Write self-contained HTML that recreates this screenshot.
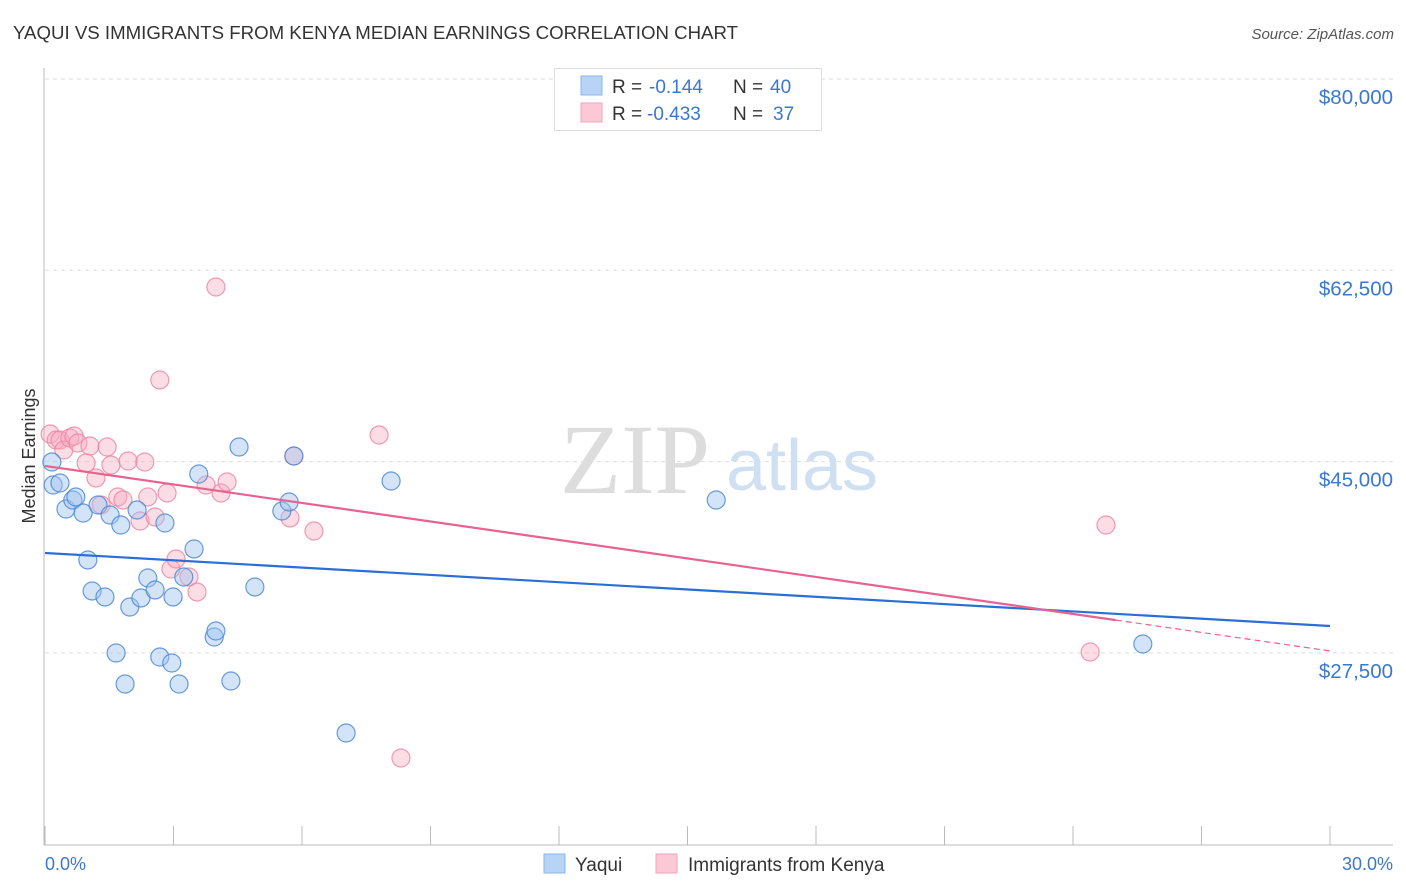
<!DOCTYPE html>
<html><head><meta charset="utf-8"><style>
body{margin:0;background:#fff;font-family:"Liberation Sans",sans-serif;}
svg{display:block}
</style></head><body>
<svg id="chart" width="1406" height="892" xmlns="http://www.w3.org/2000/svg">
<text x="13" y="39" font-size="18" fill="#333" textLength="725" lengthAdjust="spacingAndGlyphs">YAQUI VS IMMIGRANTS FROM KENYA MEDIAN EARNINGS CORRELATION CHART</text>
<text x="1394" y="39" font-size="15" fill="#555" font-style="italic" text-anchor="end">Source: ZipAtlas.com</text>
<text x="635" y="493" font-size="100" fill="#ddd" text-anchor="middle" font-family="Liberation Serif,serif">ZIP</text>
<text x="802" y="490" font-size="72" fill="#cfe0f3" text-anchor="middle">atlas</text>
<g id="grid"></g>
<line x1="44" y1="68" x2="44" y2="845" stroke="#bbb"/>
<line x1="44" y1="845" x2="1393" y2="845" stroke="#bbb"/>
<text x="35" y="456" font-size="18" fill="#333" text-anchor="middle" transform="rotate(-90 35 456)">Median Earnings</text>
<text x="45" y="870" font-size="18" fill="#3a78d0">0.0%</text>
<text x="1393" y="870" font-size="18" fill="#3a78d0" text-anchor="end">30.0%</text>
<g id="marks"></g>
<g>
<rect x="554.5" y="68.5" width="267" height="62" fill="#fff" stroke="#ddd"/>
<rect x="581" y="76" width="21" height="19" fill="#b8d3f5" stroke="#8ab4ec"/>
<rect x="581" y="103" width="21" height="19" fill="#fbc8d6" stroke="#f3a3ba"/>
<text y="93" font-size="19" fill="#333"><tspan x="612">R =</tspan><tspan x="649" fill="#3a78d0">-0.144</tspan><tspan x="733">N =</tspan><tspan x="770" fill="#3a78d0">40</tspan></text>
<text y="120" font-size="19" fill="#333"><tspan x="612">R =</tspan><tspan x="647" fill="#3a78d0">-0.433</tspan><tspan x="733">N =</tspan><tspan x="773" fill="#3a78d0">37</tspan></text>
</g>
<g>
<rect x="544" y="854" width="21" height="19" fill="#b8d3f5" stroke="#8ab4ec"/>
<text x="575" y="871" font-size="19" fill="#333">Yaqui</text>
<rect x="656" y="854" width="21" height="19" fill="#fbc8d6" stroke="#f3a3ba"/>
<text x="688" y="871" font-size="19" fill="#333">Immigrants from Kenya</text>
</g>
</svg>
<script>
const yTicks=[80000,62500,45000,27500];
const yTickLabels=["$80,000","$62,500","$45,000","$27,500"];
const xTicks=[0,3,6,9,12,15,18,21,24,27,30];
const yaquiX=[0.16,0.19,0.35,0.49,0.65,0.72,0.89,1.24,1.00,1.10,1.40,1.52,1.77,1.66,1.87,1.98,2.15,2.24,2.40,2.57,2.68,2.80,2.96,2.99,3.13,3.24,3.48,3.59,3.95,3.99,4.34,4.53,4.90,5.53,5.70,5.81,7.03,8.08,15.67,25.63];
const yaquiY=[44963,42859,43042,40664,41487,41760,40296,41028,36000,33164,32615,40115,39200,27490,24654,31698,40572,32523,34353,33255,27125,39383,26576,32615,24654,34444,37006,43865,28954,29502,24929,46335,33529,40480,41304,45512,20172,43225,41487,28314];
const kenyaX=[0.12,0.26,0.35,0.44,0.58,0.68,0.77,1.05,0.96,1.19,1.31,1.45,1.54,1.70,1.82,1.94,2.22,2.33,2.40,2.57,2.68,2.85,2.94,3.06,3.36,3.55,3.76,3.99,4.11,4.25,5.72,5.81,6.28,7.80,8.31,24.40,24.77];
const kenyaY=[47524,46975,46975,46061,47158,47341,46701,46427,44872,43500,41030,46335,44689,41762,41487,45054,39566,44963,41762,39932,52465,42127,35175,36090,34444,33072,42859,60972,42127,43134,39841,45512,38651,47432,17885,27582,39200];
const yaquiTrend=[36640,29960];
const kenyaTrend=[44600,27680];
const kenyaSolidEnd=25.0;
const NS="http://www.w3.org/2000/svg";
const X=v=>45+v/30*1285;
const Y=v=>79+(80000-v)/17500*191.3;
function mk(t,a,p){const e=document.createElementNS(NS,t);for(const k in a)e.setAttribute(k,a[k]);p.appendChild(e);return e;}
const grid=document.getElementById('grid'),marks=document.getElementById('marks');
yTicks.forEach((v,i)=>{
 const l=mk('line',{x1:45,x2:1393,y1:Y(v),y2:Y(v),stroke:'#ddd','stroke-dasharray':'4,4'},grid);
 
 
 const t=mk('text',{x:1393,y:Y(v)+25,'font-size':20.5,fill:'#3a78d0','text-anchor':'end'},grid);
 t.textContent=yTickLabels[i];
 
 
});
xTicks.forEach(v=>{
 const l=mk('line',{x1:X(v),x2:X(v),y1:826,y2:845,stroke:'#bbb'},grid);
 
 
});
function pts(xs,ys,fill,stroke,name){
 xs.forEach((x,i)=>{
  const c=mk('circle',{cx:X(x),cy:Y(ys[i]),r:9,fill:fill,stroke:stroke,'stroke-width':1.2},marks);
  
  
 });
}
pts(kenyaX,kenyaY,'rgba(248,170,192,0.4)','rgba(236,130,160,0.8)','kenya-point');
pts(yaquiX,yaquiY,'rgba(160,196,240,0.45)','rgba(70,130,210,0.8)','yaqui-point');
const ty=(tr,x)=>tr[0]+(tr[1]-tr[0])*x/30;
let l=mk('line',{x1:X(0),y1:Y(yaquiTrend[0]),x2:X(30),y2:Y(yaquiTrend[1]),stroke:'#2a6fd6','stroke-width':2.2},marks);


l=mk('line',{x1:X(0),y1:Y(kenyaTrend[0]),x2:X(kenyaSolidEnd),y2:Y(ty(kenyaTrend,kenyaSolidEnd)),stroke:'#e8628f','stroke-width':2.2},marks);


l=mk('line',{x1:X(kenyaSolidEnd),y1:Y(ty(kenyaTrend,kenyaSolidEnd)),x2:X(30),y2:Y(kenyaTrend[1]),stroke:'#e8628f','stroke-width':1.2,'stroke-dasharray':'6,4'},marks);


</script>
</body></html>
